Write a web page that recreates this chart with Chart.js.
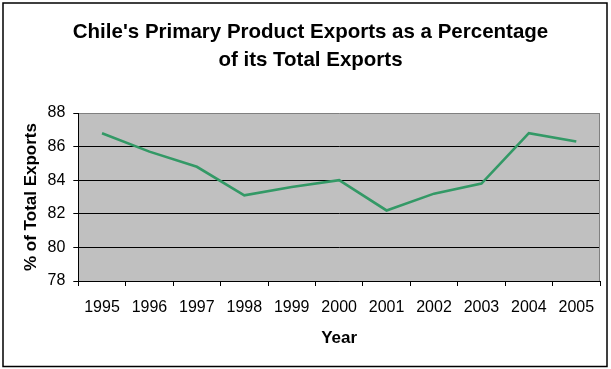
<!DOCTYPE html>
<html>
<head>
<meta charset="utf-8">
<script src="https://cdn.jsdelivr.net/npm/chart.js@4/dist/chart.umd.min.js"></script>
<style>
  html, body { margin: 0; padding: 0; background: #ffffff; }
  #wrap { width: 611px; height: 369px; position: relative; }
</style>
</head>
<body>
<div id="wrap"><canvas id="c" width="611" height="369"></canvas></div>
<script>
const years = ['1995','1996','1997','1998','1999','2000','2001','2002','2003','2004','2005'];
const exportShare = [86.8, 85.7, 84.8, 83.1, 83.6, 84.0, 82.2, 83.2, 83.8, 86.8, 86.3];
const titleLines = ["Chile's Primary Product Exports as a Percentage", 'of its Total Exports'];
const yAxisTitle = '% of Total Exports';
const xAxisTitle = 'Year';
const yMin = 78, yMax = 88, yStep = 2;

const FONT = "'Liberation Sans', Arial, Helvetica, sans-serif";

const framePlugin = {
  id: 'frame',
  beforeDraw(chart) {
    const ctx = chart.ctx;
    const a = chart.chartArea;
    ctx.save();
    ctx.fillStyle = '#ffffff';
    ctx.fillRect(0, 0, chart.width, chart.height);
    ctx.strokeStyle = '#000000';
    ctx.lineWidth = 1.5;
    ctx.strokeRect(3, 3, 604, 363.5);
    ctx.fillStyle = '#C0C0C0';
    ctx.fillRect(a.left, a.top, a.right - a.left, a.bottom - a.top);
    ctx.restore();
  },
  beforeDatasetsDraw(chart) {
    const ctx = chart.ctx;
    const a = chart.chartArea;
    ctx.save();
    ctx.strokeStyle = '#808080';
    ctx.lineWidth = 1;
    ctx.beginPath();
    ctx.moveTo(Math.round(a.right) - 0.5, a.top);
    ctx.lineTo(Math.round(a.right) - 0.5, a.bottom);
    ctx.stroke();
    ctx.restore();
  }
};

new Chart(document.getElementById('c'), {
  type: 'line',
  data: {
    labels: years,
    datasets: [{
      data: exportShare,
      borderColor: '#339966',
      borderWidth: 2.6,
      pointRadius: 0,
      tension: 0,
      fill: false
    }]
  },
  options: {
    responsive: false,
    animation: false,
    devicePixelRatio: 1,
    layout: { padding: { left: 21, right: 11, top: 0, bottom: 0 } },
    plugins: {
      legend: { display: false },
      tooltip: { enabled: false },
      title: {
        display: true,
        text: titleLines,
        color: '#000000',
        font: { family: FONT, size: 20.5, weight: 'bold', lineHeight: 1.366 },
        padding: { top: 18, bottom: 39 }
      }
    },
    scales: {
      x: {
        type: 'category',
        offset: true,
        afterFit(scale) { scale.height = 88; },
        grid: {
          offset: true,
          drawOnChartArea: false,
          drawTicks: true,
          tickLength: 5,
          color: '#000000'
        },
        border: { display: true, color: '#000000', width: 1 },
        ticks: {
          color: '#000000',
          font: { family: FONT, size: 16 },
          padding: 12,
          maxRotation: 0,
          autoSkip: false
        },
        title: {
          display: true,
          text: xAxisTitle,
          color: '#000000',
          font: { family: FONT, size: 17, weight: 'bold', lineHeight: 1.2 },
          padding: { top: 0, bottom: 20.3 }
        }
      },
      y: {
        min: yMin,
        max: yMax,
        afterFit(scale) { scale.width = 57.3; },
        grid: {
          drawOnChartArea: true,
          drawTicks: true,
          tickLength: 5,
          color: (c) => (c.tick && c.tick.value === yMax ? '#808080' : '#000000'),
          tickColor: '#000000'
        },
        border: { display: true, color: '#000000', width: 1 },
        ticks: {
          stepSize: yStep,
          color: '#000000',
          font: { family: FONT, size: 16 },
          padding: 8
        },
        title: {
          display: true,
          text: yAxisTitle,
          color: '#000000',
          font: { family: FONT, size: 17, weight: 'bold', lineHeight: 1.2 },
          padding: { top: 0, bottom: 0 }
        }
      }
    }
  },
  plugins: [framePlugin]
});
</script>
</body>
</html>
